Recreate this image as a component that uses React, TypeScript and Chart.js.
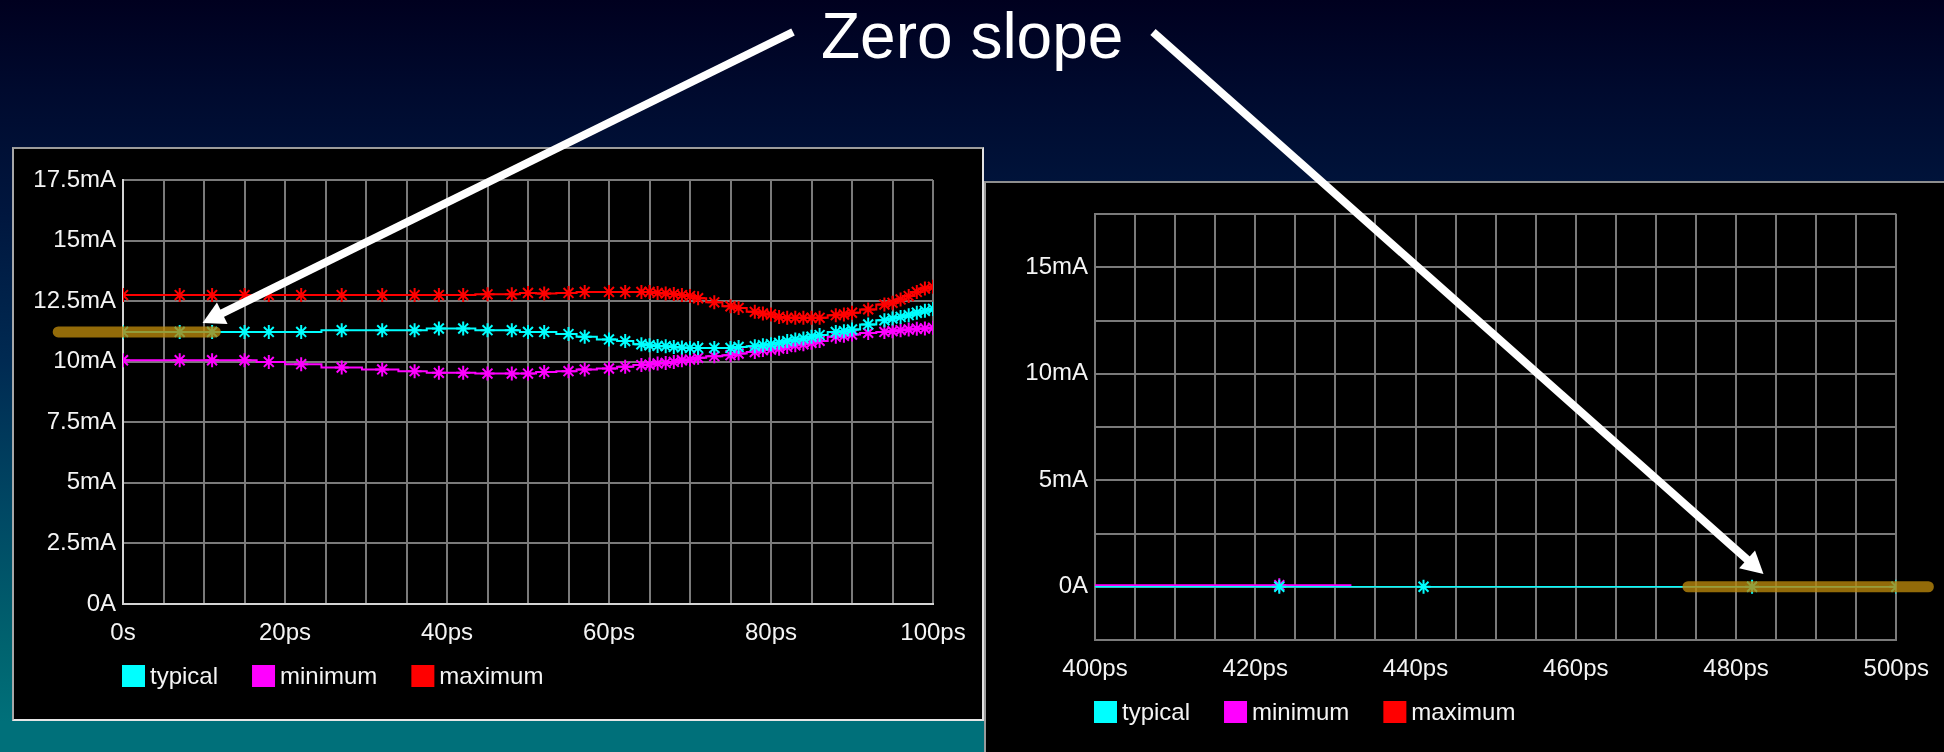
import React, { useEffect, useRef } from 'react';
import { Chart, registerables } from 'chart.js';

Chart.register(...registerables);

const FONT = '"Liberation Sans", Arial, Helvetica, sans-serif';
const TEXT = '#f4f4f4';
const GRID = '#7a7a7a';

// ---- First waveform: 0s .. 100ps, current in mA ----
const leftTimes = [
  0, 7, 11, 15, 18, 22, 27, 32, 36, 39,
  42, 45, 48, 50, 52, 55, 57, 60, 62, 64,
  65, 66, 67, 68, 69, 70, 71, 73, 75, 76,
  78, 79, 80, 81, 82, 83, 84, 85, 86, 88,
  89, 90, 92, 94, 95, 96, 97, 98, 99, 100,
];
const leftTypical = [
  11.23, 11.23, 11.23, 11.23, 11.23, 11.23, 11.3, 11.3, 11.3, 11.37,
  11.37, 11.3, 11.3, 11.23, 11.23, 11.14, 11.03, 10.92, 10.85, 10.72,
  10.68, 10.65, 10.64, 10.61, 10.59, 10.57, 10.57, 10.57, 10.57, 10.61,
  10.64, 10.68, 10.72, 10.78, 10.85, 10.92, 10.96, 11.03, 11.1, 11.23,
  11.26, 11.33, 11.54, 11.71, 11.78, 11.85, 11.92, 12.02, 12.1, 12.18,
];
const leftMinimum = [
  10.06, 10.06, 10.06, 10.06, 9.99, 9.9, 9.76, 9.68, 9.61, 9.54,
  9.54, 9.51, 9.51, 9.51, 9.58, 9.61, 9.68, 9.72, 9.79, 9.86,
  9.88, 9.93, 9.95, 9.99, 10.06, 10.09, 10.16, 10.23, 10.27, 10.34,
  10.4, 10.48, 10.5, 10.54, 10.61, 10.68, 10.72, 10.78, 10.86, 11.03,
  11.07, 11.12, 11.19, 11.23, 11.26, 11.3, 11.33, 11.36, 11.37, 11.4,
];
const leftMaximum = [
  12.75, 12.75, 12.75, 12.75, 12.75, 12.75, 12.75, 12.75, 12.75, 12.75,
  12.75, 12.78, 12.78, 12.84, 12.82, 12.84, 12.88, 12.88, 12.88, 12.88,
  12.88, 12.84, 12.82, 12.79, 12.75, 12.71, 12.62, 12.45, 12.29, 12.22,
  12.06, 11.99, 11.95, 11.85, 11.81, 11.81, 11.81, 11.81, 11.81, 11.92,
  11.95, 12.02, 12.16, 12.36, 12.43, 12.57, 12.71, 12.88, 13.02, 13.09,
];
// flat stretch marked on the typical curve
const leftFlatTimes = [-8, 11.4];
const leftFlatLevel = 11.23;

// ---- Second waveform: 400ps .. 500ps ----
const rightTypicalTimes = [400, 423, 441, 482, 500];
const rightTypical = [0, 0, 0, 0, 0];
const rightTypicalMarks = [0, 7, 7, 7, 7];
const rightMinimumTimes = [400, 423, 432];
const rightMinimum = [0.07, 0.07, 0.07];
const rightMinimumMarks = [0, 7, 0];
const rightFlatTimes = [474, 504];
const rightFlatLevel = 0;

const seriesNames = ['typical', 'minimum', 'maximum'];
const seriesColors = ['#00ffff', '#ff00ff', '#ff0000'];

const xTicksLeft = (v: number) => (v % 20 === 0 ? (v === 0 ? '0s' : `${v}ps`) : '');
const xTicksRight = (v: number) => (v % 20 === 0 ? `${v}ps` : '');
const yTicksLeft = (v: number) => (v === 0 ? '0A' : `${v}mA`);
const yTicksRight = (v: number) =>
  v >= 0 && v <= 15 && v % 5 === 0 ? (v === 0 ? '0A' : `${v}mA`) : '';

const pts = (xs: number[], ys: number[]) => xs.map((x, i) => ({ x, y: ys[i] }));

const FONT_SIZE = 24;

// Square-swatch legend placed under the plot area
const swatchLegend = {
  id: 'swatchLegend',
  afterDraw(chart: any) {
    const { ctx, chartArea } = chart;
    ctx.save();
    ctx.font = `${FONT_SIZE}px ${FONT}`;
    ctx.textBaseline = 'middle';
    ctx.textAlign = 'left';
    let x = chartArea.left - 1;
    const top = chartArea.bottom + 61;
    chart.data.datasets.forEach((ds: any) => {
      if (ds.flatMarker) return;
      ctx.fillStyle = ds.borderColor;
      ctx.fillRect(x, top, 23, 22);
      ctx.fillStyle = TEXT;
      ctx.fillText(ds.label, x + 28, top + 12);
      x += 28 + ctx.measureText(ds.label).width + 34;
    });
    ctx.restore();
  },
};

function seriesDataset(i: number, data: any[], stepped: any, radius: any, width = 2) {
  return {
    label: seriesNames[i],
    data,
    borderColor: seriesColors[i],
    backgroundColor: seriesColors[i],
    borderWidth: width,
    stepped,
    pointStyle: 'star',
    pointRadius: radius,
    pointBorderWidth: 2,
    pointBorderColor: seriesColors[i],
    order: 1,
  };
}

function flatDataset(times: number[], level: number) {
  return {
    label: 'zero slope',
    flatMarker: true,
    data: times.map((x) => ({ x, y: level })),
    borderColor: 'rgba(184,134,11,0.8)',
    borderWidth: 11,
    borderCapStyle: 'round',
    pointRadius: 0,
    clip: false,
    order: 0,
  };
}

function buildConfig(opts: {
  datasets: any[];
  xMin: number;
  xMax: number;
  yMin: number;
  yMax: number;
  xFmt: (v: number) => string;
  yFmt: (v: number) => string;
  edge: string;
  padding: any;
}) {
  const tickFont = { family: FONT, size: FONT_SIZE };
  return {
    type: 'line' as const,
    data: { datasets: opts.datasets },
    plugins: [swatchLegend],
    options: {
      responsive: false,
      animation: false as const,
      events: [],
      layout: { padding: opts.padding },
      plugins: { legend: { display: false }, tooltip: { enabled: false } },
      scales: {
        x: {
          type: 'linear' as const,
          min: opts.xMin,
          max: opts.xMax,
          afterFit: (s: any) => {
            s.height = 40;
          },
          grid: { color: GRID, lineWidth: 2, drawTicks: false },
          border: { display: true, color: opts.edge, width: 2 },
          ticks: {
            stepSize: 5,
            autoSkip: false,
            maxRotation: 0,
            padding: 15,
            color: TEXT,
            font: tickFont,
            callback: (v: any) => opts.xFmt(Number(v)),
          },
        },
        y: {
          type: 'linear' as const,
          min: opts.yMin,
          max: opts.yMax,
          afterFit: (s: any) => {
            s.width = 100;
          },
          grid: { color: GRID, lineWidth: 2, drawTicks: false },
          border: { display: true, color: opts.edge, width: 2 },
          ticks: {
            stepSize: 2.5,
            autoSkip: false,
            padding: 7,
            color: TEXT,
            font: tickFont,
            callback: (v: any) => opts.yFmt(Number(v)),
          },
        },
      },
    },
  };
}

function ChartCanvas({ config, width, height }: { config: () => any; width: number; height: number }) {
  const ref = useRef<HTMLCanvasElement | null>(null);
  useEffect(() => {
    if (!ref.current) return;
    const chart = new Chart(ref.current, config());
    return () => chart.destroy();
  }, []);
  return <canvas ref={ref} width={width} height={height} style={{ display: 'block', width, height }} />;
}

const leftConfig = () =>
  buildConfig({
    datasets: [
      flatDataset(leftFlatTimes, leftFlatLevel),
      seriesDataset(0, pts(leftTimes, leftTypical), 'middle', 7),
      seriesDataset(1, pts(leftTimes, leftMinimum), 'middle', 7),
      seriesDataset(2, pts(leftTimes, leftMaximum), 'middle', 7),
    ],
    xMin: 0,
    xMax: 100,
    yMin: 0,
    yMax: 17.5,
    xFmt: xTicksLeft,
    yFmt: yTicksLeft,
    edge: '#d4d4d4',
    padding: { left: 9, top: 31, right: 49, bottom: 75 },
  });

const rightConfig = () =>
  buildConfig({
    datasets: [
      flatDataset(rightFlatTimes, rightFlatLevel),
      seriesDataset(0, pts(rightTypicalTimes, rightTypical), false, rightTypicalMarks, 1.5),
      seriesDataset(1, pts(rightMinimumTimes, rightMinimum), false, rightMinimumMarks, 2),
      seriesDataset(2, [], false, 7),
    ],
    xMin: 400,
    xMax: 500,
    yMin: -2.5,
    yMax: 17.5,
    xFmt: xTicksRight,
    yFmt: yTicksRight,
    edge: GRID,
    padding: { left: 9, top: 31, right: 39, bottom: 72 },
  });

// Callout arrow: straight shaft with a triangular head at the tip
function Arrow({ sx, sy, tx, ty }: { sx: number; sy: number; tx: number; ty: number }) {
  const len = Math.hypot(tx - sx, ty - sy);
  const ux = (tx - sx) / len;
  const uy = (ty - sy) / len;
  const nx = -uy;
  const ny = ux;
  const head = 22;
  const half = 12;
  const bx = tx - ux * head;
  const by = ty - uy * head;
  const p = `${tx},${ty} ${bx + nx * half},${by + ny * half} ${bx - nx * half},${by - ny * half}`;
  return (
    <g>
      <line x1={sx} y1={sy} x2={bx + ux * 2} y2={by + uy * 2} stroke="#ffffff" strokeWidth={8} />
      <polygon points={p} fill="#ffffff" />
    </g>
  );
}

export default function App() {
  return (
    <div
      style={{
        position: 'fixed',
        left: 0,
        top: 0,
        width: 1944,
        height: 752,
        overflow: 'hidden',
        background:
          'linear-gradient(180deg, #00001f 0%, #000a2e 12%, #00163e 28%, #002a52 48%, #004864 68%, #00636f 86%, #00707a 96%, #00707a 100%)',
        fontFamily: FONT,
      }}
    >
      <div
        style={{
          position: 'absolute',
          left: 12,
          top: 147,
          width: 972,
          height: 574,
          boxSizing: 'border-box',
          background: '#000',
          borderTop: '2px solid #9c9c9c',
          borderLeft: '2px solid #a8a8a8',
          borderRight: '2px solid #e2e2e2',
          borderBottom: '2px solid #e6e6e6',
        }}
      >
        <ChartCanvas config={leftConfig} width={968} height={570} />
      </div>
      <div
        style={{
          position: 'absolute',
          left: 984,
          top: 181,
          width: 960,
          height: 571,
          boxSizing: 'border-box',
          background: '#000',
          borderTop: '2px solid #8e8e8e',
          borderLeft: '2px solid #9a9a9a',
        }}
      >
        <ChartCanvas config={rightConfig} width={958} height={569} />
      </div>
      <svg
        width={1944}
        height={752}
        style={{ position: 'absolute', left: 0, top: 0, pointerEvents: 'none' }}
      >
        <text x={821} y={58} fill="#ffffff" fontSize={64} fontFamily={FONT}>
          Zero slope
        </text>
        <Arrow sx={793} sy={32} tx={202.5} ty={323} />
        <Arrow sx={1153} sy={32} tx={1763.5} ty={574} />
      </svg>
    </div>
  );
}
